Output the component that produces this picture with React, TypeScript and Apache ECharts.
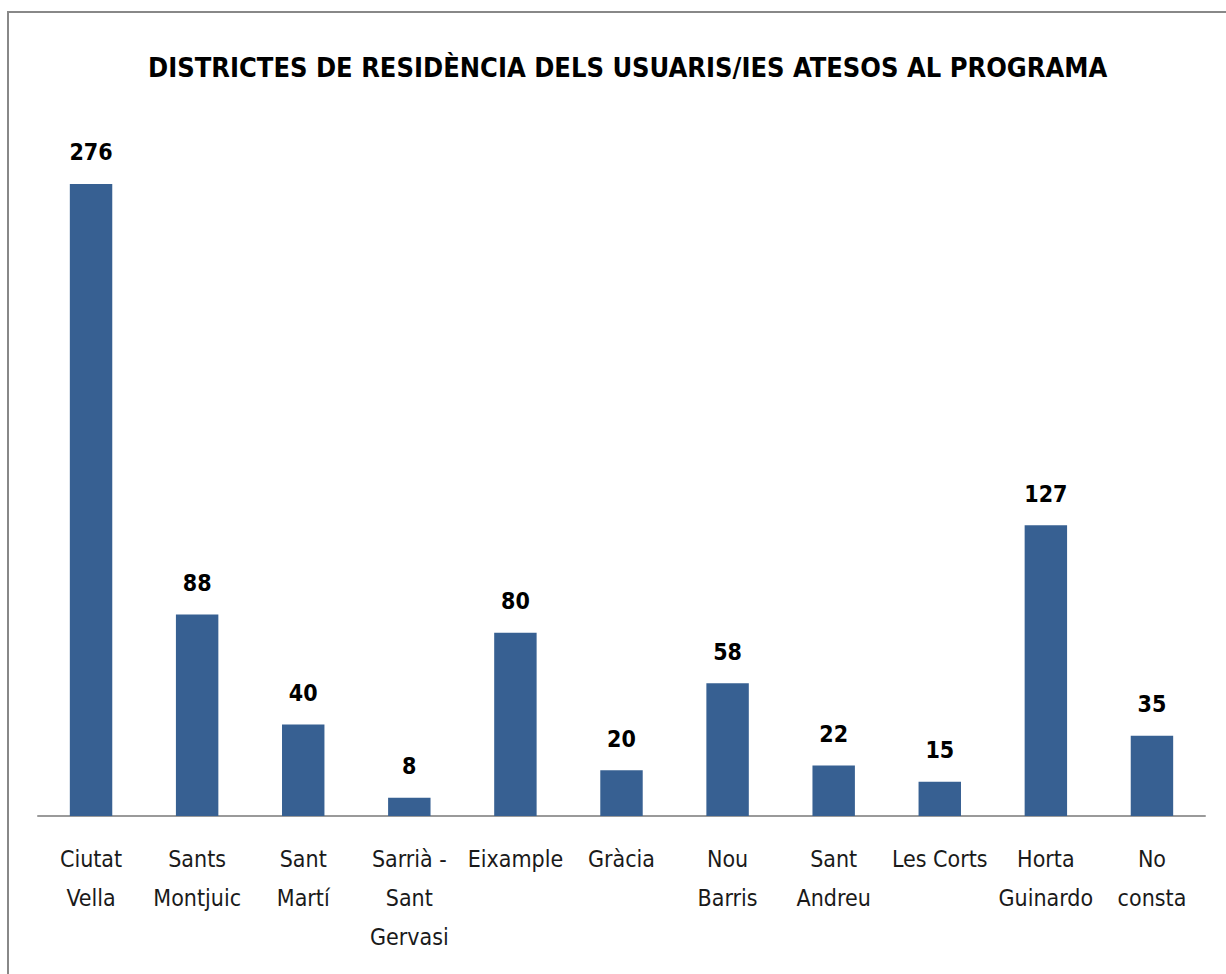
import React, { useEffect, useRef } from "react";
import * as echarts from "echarts";

const categories = [
  "Ciutat\nVella",
  "Sants\nMontjuic",
  "Sant\nMartí",
  "Sarrià -\nSant\nGervasi",
  "Eixample",
  "Gràcia",
  "Nou\nBarris",
  "Sant\nAndreu",
  "Les Corts",
  "Horta\nGuinardo",
  "No\nconsta",
];
const values = [276, 88, 40, 8, 80, 20, 58, 22, 15, 127, 35];
const title = "DISTRICTES DE RESIDÈNCIA DELS USUARIS/IES ATESOS AL PROGRAMA";

const FONT = "'Liberation Sans Narrow', 'DejaVu Sans Condensed', 'Liberation Sans', sans-serif";

export default function App() {
  const ref = useRef<HTMLDivElement>(null);
  useEffect(() => {
    document.body.style.margin = "0";
    const chart = echarts.init(ref.current!, null, { renderer: "svg" });
    chart.setOption({
      animation: false,
      backgroundColor: "#ffffff",
      title: {
        text: title,
        left: 143,
        top: 49,
        textStyle: { fontFamily: FONT, fontSize: 27, fontWeight: "bold", color: "#000" },
      },
      graphic: [
        {
          type: "rect",
          shape: { x: 8, y: 12, width: 1240, height: 1000 },
          style: { fill: "none", stroke: "#888888", lineWidth: 2 },
          silent: true,
        },
      ],
      grid: { left: 38, right: 21, top: 129, bottom: 158 },
      xAxis: {
        type: "category",
        data: categories,
        axisLine: { lineStyle: { color: "#9a9a9a", width: 2 } },
        axisTick: { show: false },
        axisLabel: {
          interval: 0,
          margin: 23,
          fontFamily: FONT,
          fontSize: 23,
          lineHeight: 39,
          color: "#1a1a1a",
        },
      },
      yAxis: {
        type: "value",
        min: 0,
        max: 300,
        show: false,
        splitLine: { show: false },
      },
      series: [
        {
          type: "bar",
          data: values,
          barCategoryGap: "60%",
          itemStyle: { color: "#376092" },
          label: {
            show: true,
            position: "top",
            distance: 20,
            fontFamily: FONT,
            fontSize: 23,
            fontWeight: "bold",
            color: "#000",
          },
        },
      ],
    });
    return () => chart.dispose();
  }, []);
  return <div ref={ref} style={{ width: 1226, height: 974 }} />;
}
